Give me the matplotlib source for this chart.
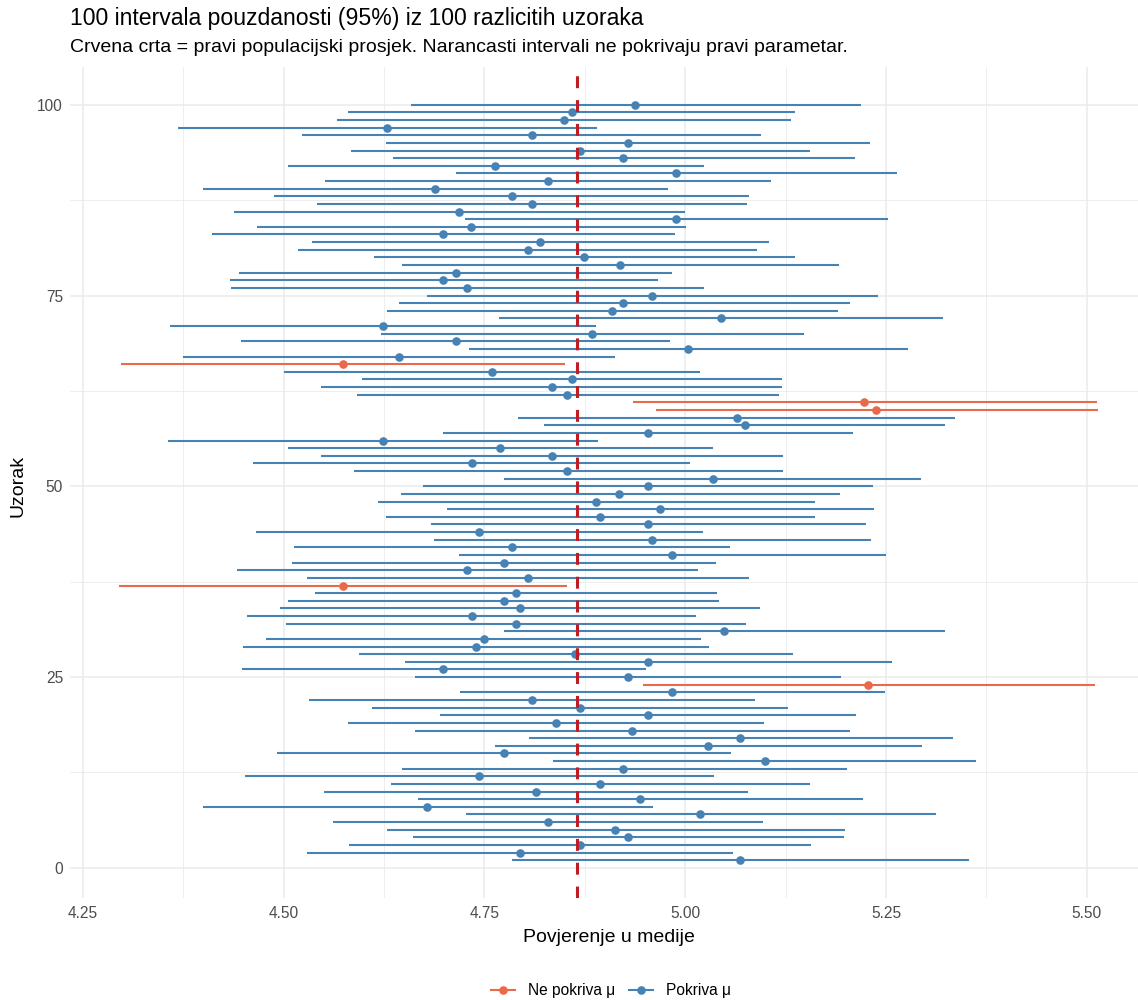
import numpy as np
import matplotlib
matplotlib.use("Agg")
import matplotlib.pyplot as plt
from matplotlib.lines import Line2D

# Confidence intervals (95%) for 100 samples: lower bound, sample mean, upper bound
sample_id = list(range(1, 101))
lower = [4.784, 4.529, 4.582, 4.661, 4.629, 4.562, 4.727, 4.400, 4.667, 4.550,
         4.634, 4.452, 4.647, 4.836, 4.492, 4.763, 4.805, 4.663, 4.580, 4.695,
         4.610, 4.532, 4.720, 4.948, 4.664, 4.448, 4.651, 4.594, 4.449, 4.478,
         4.775, 4.503, 4.455, 4.496, 4.506, 4.539, 4.295, 4.529, 4.442, 4.511,
         4.718, 4.513, 4.687, 4.466, 4.684, 4.627, 4.704, 4.618, 4.646, 4.674,
         4.775, 4.587, 4.462, 4.547, 4.505, 4.356, 4.699, 4.824, 4.792, 4.964,
         4.935, 4.591, 4.547, 4.598, 4.501, 4.298, 4.375, 4.731, 4.447, 4.621,
         4.359, 4.768, 4.629, 4.644, 4.679, 4.434, 4.433, 4.445, 4.648, 4.612,
         4.518, 4.535, 4.411, 4.467, 4.726, 4.438, 4.541, 4.488, 4.400, 4.551,
         4.714, 4.506, 4.636, 4.584, 4.628, 4.523, 4.368, 4.566, 4.580, 4.658]
means = [5.068, 4.794, 4.869, 4.929, 4.913, 4.829, 5.018, 4.679, 4.944, 4.814,
         4.894, 4.743, 4.923, 5.099, 4.774, 5.028, 5.068, 4.934, 4.839, 4.954,
         4.869, 4.809, 4.983, 5.228, 4.929, 4.699, 4.954, 4.863, 4.739, 4.749,
         5.048, 4.789, 4.734, 4.794, 4.774, 4.789, 4.574, 4.804, 4.728, 4.774,
         4.983, 4.784, 4.959, 4.743, 4.954, 4.894, 4.969, 4.889, 4.918, 4.954,
         5.034, 4.853, 4.734, 4.834, 4.769, 4.624, 4.954, 5.074, 5.064, 5.238,
         5.223, 4.853, 4.834, 4.859, 4.759, 4.574, 4.644, 5.003, 4.714, 4.884,
         4.624, 5.044, 4.909, 4.923, 4.959, 4.728, 4.699, 4.714, 4.919, 4.874,
         4.804, 4.819, 4.699, 4.733, 4.988, 4.718, 4.809, 4.784, 4.689, 4.829,
         4.988, 4.763, 4.923, 4.869, 4.929, 4.809, 4.629, 4.849, 4.859, 4.938]
upper = [5.353, 5.059, 5.157, 5.198, 5.199, 5.097, 5.312, 4.960, 5.222, 5.078,
         5.155, 5.036, 5.202, 5.362, 5.057, 5.295, 5.333, 5.205, 5.098, 5.213,
         5.128, 5.087, 5.249, 5.510, 5.194, 4.951, 5.257, 5.134, 5.030, 5.020,
         5.324, 5.076, 5.014, 5.093, 5.042, 5.040, 4.853, 5.079, 5.016, 5.038,
         5.250, 5.056, 5.231, 5.022, 5.225, 5.162, 5.235, 5.161, 5.193, 5.234,
         5.293, 5.122, 5.006, 5.122, 5.034, 4.892, 5.209, 5.324, 5.336, 5.514,
         5.513, 5.117, 5.121, 5.120, 5.018, 4.850, 4.913, 5.277, 4.981, 5.148,
         4.889, 5.321, 5.190, 5.205, 5.240, 5.024, 4.966, 4.984, 5.191, 5.137,
         5.090, 5.104, 4.987, 5.001, 5.253, 5.000, 5.077, 5.080, 4.979, 5.107,
         5.264, 5.023, 5.212, 5.155, 5.230, 5.095, 4.890, 5.132, 5.137, 5.219]
true_mean = 4.865

col_miss = "#E9694D"
col_hit = "#4682B4"

lower = np.array(lower)
upper = np.array(upper)
means = np.array(means)
y = np.array(sample_id)
covers = (lower <= true_mean) & (upper >= true_mean)

plt.rcParams["font.family"] = ["Liberation Sans", "DejaVu Sans"]

fig = plt.figure(figsize=(11.38, 10), dpi=100)
# panel runs a little past the right edge of the figure
ax = fig.add_axes([70 / 1138, 1 - 898 / 1000, (1147 - 70) / 1138, (898 - 67) / 1000])

for ok, col in [(True, col_hit), (False, col_miss)]:
    m = covers == ok
    ax.hlines(y[m], lower[m], upper[m], color=col, linewidth=1.5, zorder=2)
    ax.plot(means[m], y[m], "o", color=col, markersize=6.2, markeredgewidth=0, zorder=3)

# true population mean
ax.axvline(true_mean, color="#BE1E23", linewidth=2.2, dashes=(3.9, 3.9), zorder=4)

ax.set_xlim(4.234, 5.575)
ax.set_ylim(-3.95, 104.95)

ax.set_xticks([4.25, 4.50, 4.75, 5.00, 5.25, 5.50])
ax.set_xticklabels(["4.25", "4.50", "4.75", "5.00", "5.25", "5.50"])
ax.set_xticks(np.arange(4.375, 5.5, 0.25), minor=True)
ax.set_yticks([0, 25, 50, 75, 100])
ax.set_yticks([12.5, 37.5, 62.5, 87.5], minor=True)

ax.grid(which="major", color="#EBEBEB", linewidth=1.1, zorder=0)
ax.grid(which="minor", color="#EBEBEB", linewidth=0.6, zorder=0)
ax.set_axisbelow(True)
for s in ax.spines.values():
    s.set_visible(False)
ax.tick_params(which="both", length=0, labelsize=11.2, labelcolor="#4D4D4D")
ax.tick_params(axis="x", pad=6)
ax.tick_params(axis="y", pad=5)

fig.text(70 / 1138, 1 - 18 / 1000, "100 intervala pouzdanosti (95%) iz 100 razlicitih uzoraka",
         fontsize=16.6, ha="left", va="center")
fig.text(70 / 1138, 1 - 48 / 1000,
         "Crvena crta = pravi populacijski prosjek. Narancasti intervali ne pokrivaju pravi parametar.",
         fontsize=14, ha="left", va="center")
fig.text(609 / 1138, 1 - 937 / 1000, "Povjerenje u medije", fontsize=14, ha="center", va="center")
fig.text(18 / 1138, 1 - 486 / 1000, "Uzorak", fontsize=14, rotation=90, ha="center", va="center")

handles = [Line2D([0], [0], color=col_miss, linewidth=1.5, marker="o", markersize=6.2, markeredgewidth=0),
           Line2D([0], [0], color=col_hit, linewidth=1.5, marker="o", markersize=6.2, markeredgewidth=0)]
fig.legend(handles, ["Ne pokriva μ", "Pokriva μ"], loc="center", bbox_to_anchor=(611 / 1138, 1 - 991 / 1000),
           ncol=2, frameon=False, fontsize=11.2, handlelength=1.55, columnspacing=0.85, handletextpad=0.85,
           borderpad=0)

fig.savefig("out.png", dpi=100)
